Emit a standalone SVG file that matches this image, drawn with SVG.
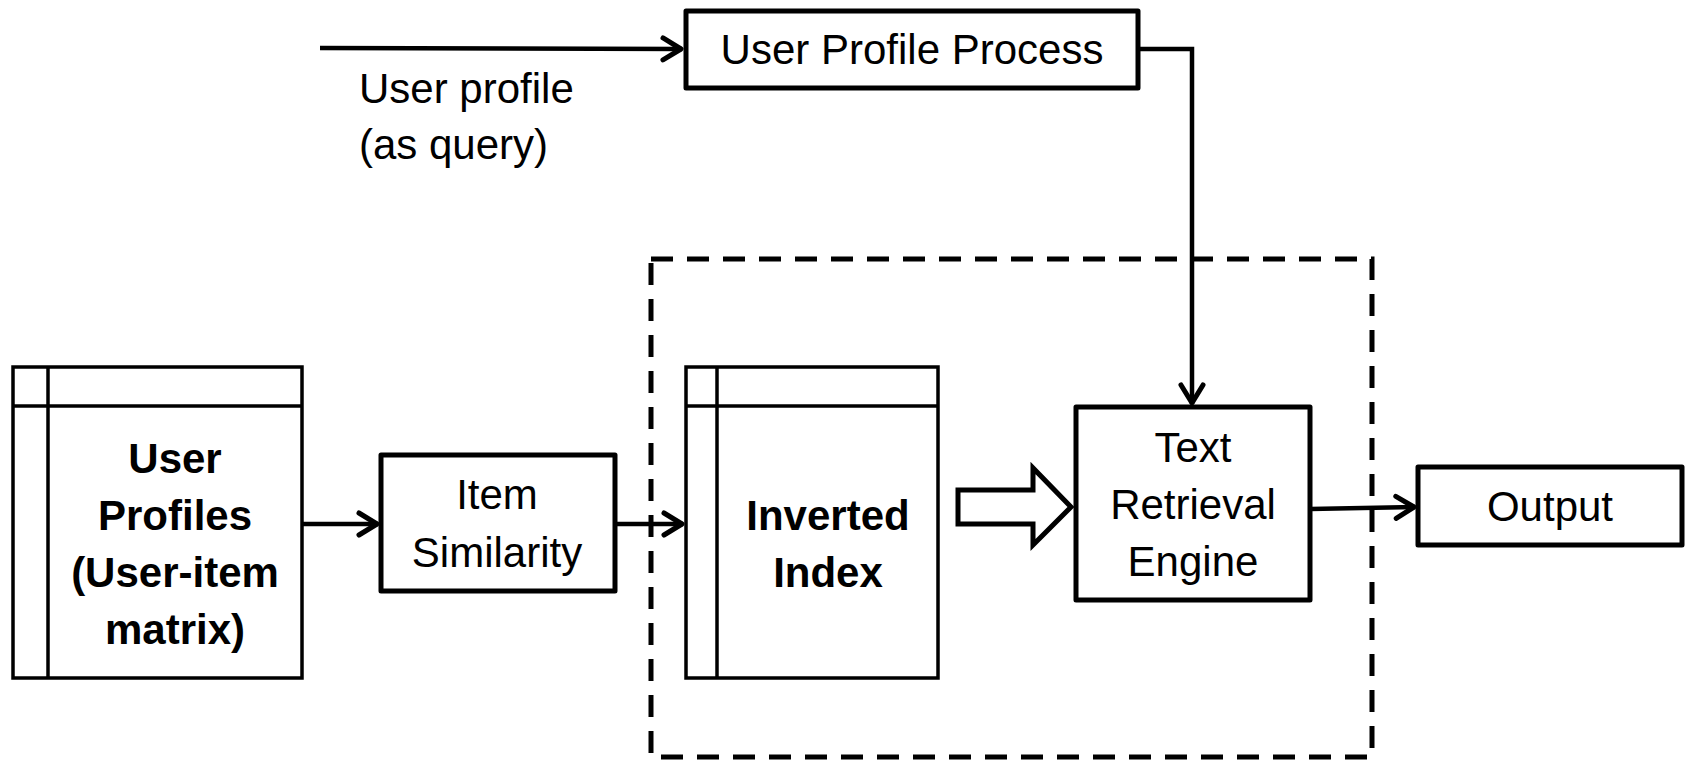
<svg xmlns="http://www.w3.org/2000/svg" width="1687" height="763" viewBox="0 0 1687 763">
<defs>
<style>
.box{fill:#fff;stroke:#000;stroke-width:5;stroke-linejoin:round}
.tbl{fill:#fff;stroke:#000;stroke-width:3.5}
.ln{fill:none;stroke:#000;stroke-width:3.5}
.t{font-family:"Liberation Sans",Arial,sans-serif;font-size:42px;fill:#000;text-anchor:middle}
.b{font-weight:bold}
.c{fill:none;stroke:#000;stroke-width:4.5}
</style>
<marker id="ah" markerUnits="userSpaceOnUse" markerWidth="26" markerHeight="30" viewBox="0 0 26 30" refX="23" refY="15" orient="auto">
<path d="M4,4 L22,15 L4,26" fill="none" stroke="#000" stroke-width="5" stroke-linecap="round" stroke-linejoin="round"/>
</marker>
</defs>
<rect width="1687" height="763" fill="#fff"/>
<g id="group-box">
<rect x="651" y="259" width="721" height="498" fill="none" stroke="#000" stroke-width="5" stroke-dasharray="22 14"/>
</g>
<g id="user-profile-process">
<rect class="box" x="686" y="11" width="452" height="77"/>
<text class="t" x="912" y="64">User Profile Process</text>
</g>
<g id="query-label">
<text class="t" x="359" y="103" text-anchor="start" style="text-anchor:start">User profile</text>
<text class="t" x="359" y="159" style="text-anchor:start">(as query)</text>
</g>
<g id="user-profiles">
<rect class="tbl" x="13" y="367" width="289" height="311"/>
<line class="ln" x1="48" y1="367" x2="48" y2="678"/>
<line class="ln" x1="13" y1="406" x2="302" y2="406"/>
<text class="t b" x="175" y="473">User</text>
<text class="t b" x="175" y="530">Profiles</text>
<text class="t b" x="175" y="587">(User-item</text>
<text class="t b" x="175" y="644">matrix)</text>
</g>
<g id="item-similarity">
<rect class="box" x="381" y="455" width="234" height="136"/>
<text class="t" x="497" y="509">Item</text>
<text class="t" x="497" y="567">Similarity</text>
</g>
<g id="inverted-index">
<rect class="tbl" x="686" y="367" width="252" height="311"/>
<line class="ln" x1="717" y1="367" x2="717" y2="678"/>
<line class="ln" x1="686" y1="406" x2="938" y2="406"/>
<text class="t b" x="828" y="530">Inverted</text>
<text class="t b" x="828" y="587">Index</text>
</g>
<g id="text-retrieval-engine">
<rect class="box" x="1076" y="407" width="234" height="193"/>
<text class="t" x="1193" y="462">Text</text>
<text class="t" x="1193" y="519">Retrieval</text>
<text class="t" x="1193" y="576">Engine</text>
</g>
<g id="output">
<rect class="box" x="1418" y="467" width="264" height="78"/>
<text class="t" x="1550" y="521">Output</text>
</g>
<g id="connectors">
<line class="c" x1="320" y1="48" x2="682" y2="49" marker-end="url(#ah)"/>
<polyline class="c" points="1138,49 1192,49 1192,404" marker-end="url(#ah)"/>
<line class="c" x1="302" y1="524" x2="378" y2="524" marker-end="url(#ah)"/>
<line class="c" x1="615" y1="524" x2="683" y2="524" marker-end="url(#ah)"/>
<line class="c" x1="1310" y1="509" x2="1415" y2="507" marker-end="url(#ah)"/>
<polygon points="958,490 1033,490 1033,468 1071,507 1033,545 1033,524 958,524" fill="#fff" stroke="#000" stroke-width="5"/>
</g>
</svg>
